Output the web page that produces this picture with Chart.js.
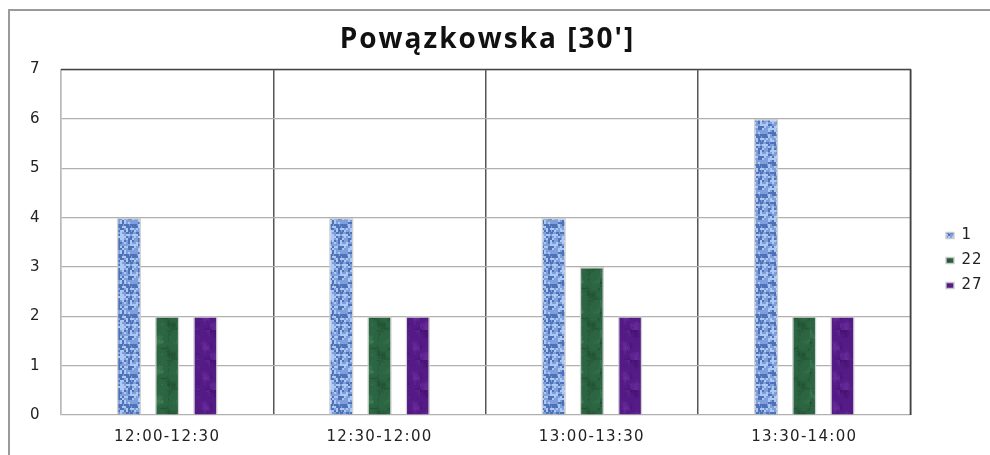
<!DOCTYPE html>
<html><head><meta charset="utf-8">
<script src="https://cdn.jsdelivr.net/npm/chart.js@4/dist/chart.umd.min.js"></script>
<style>html,body{margin:0;padding:0;background:#fff}#wrap{position:relative;width:990px;height:455px}</style>
</head><body><div id="wrap"><canvas id="c" width="990" height="455"></canvas></div>
<script>
const titleText = "Powązkowska [30']";
const categories = ['12:00-12:30', '12:30-12:00', '13:00-13:30', '13:30-14:00'];
const seriesNames = ['1', '22', '27'];
const series1 = [4, 4, 4, 6];
const series22 = [2, 2, 3, 2];
const series27 = [2, 2, 2, 2];
const yTicks = [0, 1, 2, 3, 4, 5, 6, 7];

function hash(x, y, s) {
  const v = Math.sin(x * 127.1 + y * 311.7 + s * 74.7) * 43758.5453;
  return v - Math.floor(v);
}
function smooth(x, y, s, cell) {
  const gx = Math.floor(x / cell), gy = Math.floor(y / cell);
  const fx = (x % cell) / cell, fy = (y % cell) / cell;
  const a = hash(gx, gy, s), b = hash(gx + 1, gy, s), c = hash(gx, gy + 1, s), d = hash(gx + 1, gy + 1, s);
  return (a * (1 - fx) + b * fx) * (1 - fy) + (c * (1 - fx) + d * fx) * fy;
}
function makePattern(base, dark, light, seed, kind) {
  const c = document.createElement('canvas');
  c.width = 30; c.height = 30;
  const g = c.getContext('2d');
  g.fillStyle = base; g.fillRect(0, 0, 30, 30);
  if (kind === 'weave') {
    for (let y = 0; y < 30; y += 2) {
      for (let x = 0; x < 30; x += 2) {
        const h = hash(x, y, seed);
        if (h > 0.66) { g.fillStyle = dark; g.fillRect(x, y, 2 + (h > 0.88 ? 1 : 0), 2); }
        else if (h < 0.3) { g.fillStyle = light; g.fillRect(x, y, 2, 2); }
      }
    }
  } else {
    for (let y = 0; y < 30; y++) {
      for (let x = 0; x < 30; x++) {
        const n = smooth(x, y, seed, 6) * 0.85 + hash(x, y, seed + 9) * 0.15;
        if (n > 0.62) { g.globalAlpha = Math.min(1, (n - 0.62) * 3); g.fillStyle = light; g.fillRect(x, y, 1, 1); }
        else if (n < 0.32) { g.globalAlpha = Math.min(1, (0.32 - n) * 3); g.fillStyle = dark; g.fillRect(x, y, 1, 1); }
      }
    }
    g.globalAlpha = 1;
  }
  return document.getElementById('c').getContext('2d').createPattern(c, 'repeat');
}
const pBlue = makePattern('#7e9fdc', '#4e72b8', '#adc8f3', 1, 'weave');
const pGreen = makePattern('#2c6541', '#1b472b', '#4a8a5d', 2, 'marble');
const pPurple = makePattern('#541b86', '#3f0f68', '#6e30a0', 3, 'marble');

function spaced(obj, name, sp) {
  const f = obj[name];
  if (!f || f._spaced) return;
  const w = function (...args) {
    const ctx = this.ctx;
    ctx.save();
    ctx.letterSpacing = sp;
    const r = f.apply(this, args);
    ctx.restore();
    return r;
  };
  w._spaced = true;
  obj[name] = w;
}

const framePlugin = {
  id: 'frame',
  beforeDraw(chart) {
    const ctx = chart.ctx;
    ctx.save();
    ctx.strokeStyle = '#9a9a9a';
    ctx.lineWidth = 2;
    ctx.beginPath();
    ctx.moveTo(9, 455); ctx.lineTo(9, 10); ctx.lineTo(990, 10);
    ctx.stroke();
    ctx.restore();
  },
  afterLayout(chart) {
    const lg = chart.legend;
    if (lg) {
      const dx = 936 - lg.left, dy = 27;
      lg.left += dx; lg.right += dx; lg.top += dy; lg.bottom += dy;
      spaced(lg, 'draw', '1px');
    }
    if (chart.titleBlock) spaced(chart.titleBlock, 'draw', '2px');
    if (chart.scales.x) spaced(chart.scales.x, 'drawLabels', '1.3px');
    if (chart.scales.y) spaced(chart.scales.y, 'drawLabels', '0.5px');
  },
  afterDatasetsDraw(chart) {
    const {ctx, chartArea: a} = chart;
    ctx.save();
    ctx.strokeStyle = '#444';
    ctx.lineWidth = 1.5;
    ctx.beginPath();
    ctx.moveTo(a.left, a.top); ctx.lineTo(a.right, a.top); ctx.lineTo(a.right, a.bottom);
    ctx.stroke();
    ctx.restore();
  }
};

new Chart(document.getElementById('c'), {
  type: 'bar',
  data: {
    labels: categories,
    datasets: [
      {label: seriesNames[0], data: series1, backgroundColor: pBlue},
      {label: seriesNames[1], data: series22, backgroundColor: pGreen},
      {label: seriesNames[2], data: series27, backgroundColor: pPurple}
    ].map(d => Object.assign(d, {borderColor: 'rgba(205,205,205,0.9)', borderWidth: 1.5, categoryPercentage: 0.54, barPercentage: 0.64}))
  },
  options: {
    responsive: false,
    animation: false,
    devicePixelRatio: 1,
    layout: {padding: {left: 10, right: 25, top: 12, bottom: 0}},
    plugins: {
      title: {display: true, text: titleText, color: '#111', font: {family: 'Open Sans', size: 28, weight: 'bold'}, padding: {top: 11, bottom: 13}},
      legend: {position: 'right', labels: {boxWidth: 8, boxHeight: 6, padding: 10, color: '#222', font: {family: 'DejaVu Sans', size: 15}}},
      tooltip: {enabled: false}
    },
    scales: {
      x: {
        offset: true,
        afterFit: (s) => { s.height = 40; },
        grid: {offset: true, drawTicks: false, color: (c) => c.index === 0 ? '#bbb' : '#555', lineWidth: 1.5},
        border: {display: false},
        ticks: {padding: 13, color: '#222', font: {family: 'DejaVu Sans', size: 15}}
      },
      y: {
        min: 0, max: 7,
        afterFit: (s) => { s.width = 51; },
        afterBuildTicks: (s) => { s.ticks = yTicks.map(v => ({value: v})); },
        grid: {drawTicks: false, color: '#b0b0b0', lineWidth: 1.2},
        border: {display: true, color: '#bbb', width: 1.5},
        ticks: {padding: 21, color: '#222', font: {family: 'DejaVu Sans', size: 15}}
      }
    }
  },
  plugins: [framePlugin]
});
</script></body></html>
